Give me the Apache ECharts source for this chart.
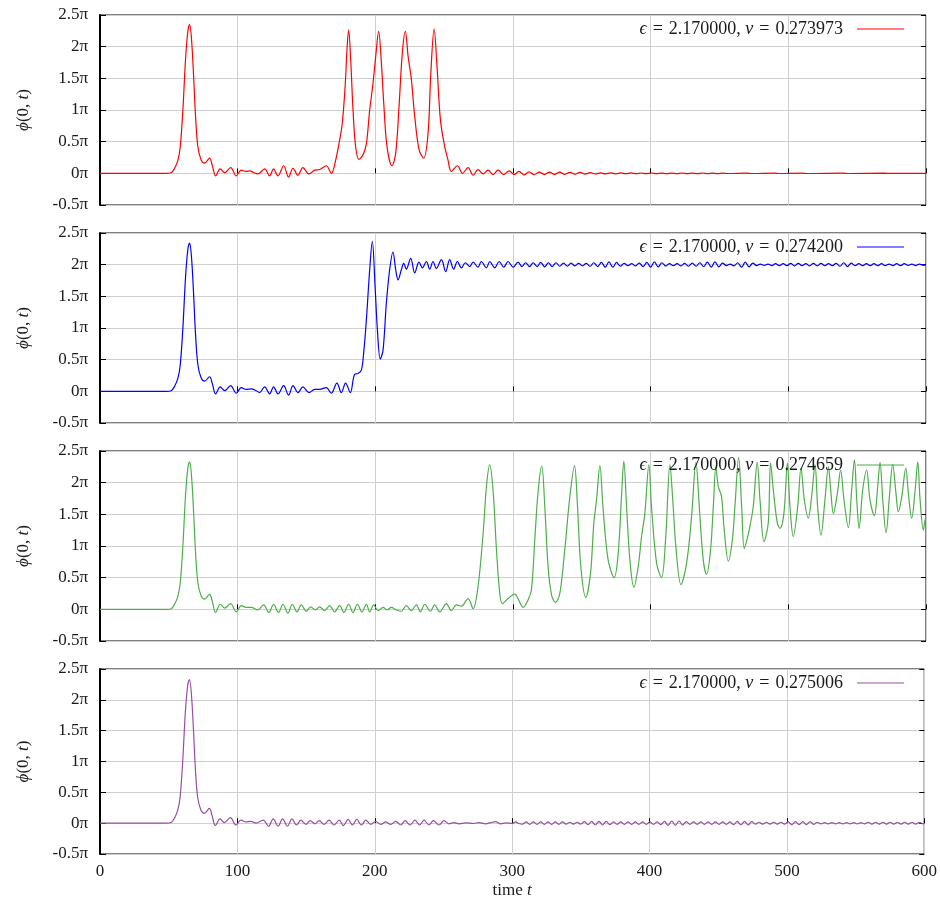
<!DOCTYPE html>
<html><head><meta charset="utf-8">
<script src="https://cdn.jsdelivr.net/npm/echarts@6/dist/echarts.min.js"></script>
<style>html,body{margin:0;padding:0;background:#fff}#c{width:940px;height:900px}</style>
</head><body><div id="c"></div>
<script>
// ---------- data (phi in units of pi, t in time units) ----------
const epsilonValue = '2.170000';
const velocities = ['0.273973', '0.274200', '0.274659', '0.275006'];
const lineColors = ['#ff0000', '#0000ff', '#4daf4a', '#984ea3'];
const xTickValues = [0, 100, 200, 300, 400, 500, 600];
const yTickValues = [-0.5, 0, 0.5, 1, 1.5, 2, 2.5];
const yTickLabels = ['-0.5π', '0π', '0.5π', '1π', '1.5π', '2π', '2.5π'];

const phiV273973 = [
[0,0],[48.1,0],[51.7,0.01],[54.2,0.08],[56.6,0.21],[58.3,0.42],[60.2,1.0],[62.1,1.79],[63.8,2.24],[65.1,2.35],[66.5,2.11],[68.0,1.53],[69.4,0.9],[71.1,0.42],[73.5,0.21],[76.0,0.16],[79.6,0.24],[81.5,0.13],[84.0,-0.04],[87.3,0.07],[90.5,0.01],[94.9,0.09],[99.0,-0.04],[102.6,0.05],[106.2,0.03],[109.2,0.04],[111.6,0.01],[114.7,-0.01],[119.6,0.07],[123.2,-0.04],[126.1,0.07],[129.3,-0.04],[133.4,0.12],[137.0,-0.06],[140.2,0.08],[143.8,-0.03],[147.4,0.09],[151.8,-0.01],[155.9,0.05],[159.6,0.06],[164.4,0.12],[168.0,0],[171.2,0.21],[174.1,0.53],[176.0,0.79],[178.2,1.42],[179.4,1.95],[180.6,2.26],[182.1,1.79],[183.8,1.0],[185.7,0.42],[188.1,0.22],[191.0,0.29],[193.5,0.47],[195.9,1.0],[198.3,1.42],[200.3,1.85],[202.4,2.24],[204.4,1.74],[206.1,1.11],[208.5,0.42],[212.1,0.12],[214.8,0.32],[217.2,1.05],[219.6,1.9],[221.8,2.24],[223.8,1.85],[226.2,1.48],[228.6,0.9],[231.8,0.37],[235.1,0.24],[238.3,0.63],[240.2,1.53],[242.7,2.28],[244.8,1.69],[247.3,0.84],[250.4,0.42],[252.8,0.21],[255.2,0.03],[259.6,0.12],[263.3,0],[267.4,0.09],[271.0,-0.03],[274.6,0.06],[278.3,-0.01],[281.9,0.05],[285.5,-0.02],[289.2,0.05],[293.3,-0.02],[297.2,0.04],[300.8,-0.02],[304.4,0.03],
[308,-0.025],[311.7,0.022],[315.4,-0.022],[319.1,0.02],[322.8,-0.02],[326.5,0.02],[330.2,-0.018],[333.9,0.018],[337.6,-0.016],[341.3,0.016],[345,-0.015],[348.7,0.015],[352.4,-0.012],[356.1,0.012],[359.8,-0.01],[363.5,0.008],[367.2,-0.008],[370.9,0.007],[374.6,-0.007],[378.3,0.006],[382,-0.006],[385.7,0.006],[389.4,-0.006],[393.1,0.005],[396.8,-0.005],[400.5,0.005],[404.2,-0.005],[407.9,0.004],[411.6,-0.004],[415.3,0.004],[419,-0.004],[422.7,0.005],[426.4,-0.005],[430.1,0.004],[433.8,-0.004],[437.5,0.005],[441.2,-0.004],[444.9,0.004],[448.6,-0.004],[452.3,0.003],[456,-0.003],[470,0.003],[473.7,-0.003],[490,0.003],[493.7,-0.003],[510,0.003],[513.7,-0.003],[540,0.003],[543.7,-0.003],[570,0.002],[573.7,-0.002],[600,0]
];

const phiV274200 = [
[0,0],[48.1,0],[51.7,0.01],[54.2,0.08],[56.6,0.21],[58.3,0.42],[60.2,1.0],[62.1,1.79],[63.8,2.24],[65.1,2.34],[66.5,2.11],[68.0,1.53],[69.4,0.9],[71.1,0.42],[73.5,0.21],[76.0,0.16],[79.6,0.23],[81.5,0.13],[84.0,-0.04],[87.3,0.07],[90.5,0.01],[94.9,0.09],[99.0,-0.03],[102.6,0.06],[106.2,0.03],[109.9,0.04],[113.5,0.01],[115.9,-0.02],[119.6,0.07],[123.2,-0.04],[126.1,0.07],[129.3,-0.04],[133.4,0.09],[137.0,-0.06],[140.2,0.09],[143.8,-0.02],[147.4,0.07],[151.8,-0.02],[155.9,0.03],[159.6,0.03],[164.4,0.06],[168.0,-0.03],[172.1,0.13],[175.3,-0.02],[178.4,0.13],[181.8,-0.02],[185.0,0.27],[187.4,0.28],[189.8,0.33],[191.5,0.6],[193.5,1.13],[195.9,1.92],[197.8,2.37],[199.8,1.66],[201.5,0.97],[203.6,0.51],[205.6,0.65],[208.0,1.39],[210.4,1.92],[212.8,2.2],[214.8,1.92],[216.5,1.76],[218.9,1.92],[220.6,2.02],[222.5,1.93],[225.7,2.1],[228.6,1.87],[231.7,2.04],[234.2,1.95],[237.1,2.05],[239.5,1.93],[241.9,2.05],[244.3,1.94],[248.0,2.08],[251.1,1.89],[254.0,2.08],[256.9,1.93],[259.6,2.05],[262.5,1.95],[265.4,2.03],[268.6,1.97],[271.0,2.04],[274.6,1.96],[277.0,2.05],[280.7,1.95],[283.1,2.05],[286.7,1.95],[289.9,2.05],[293.3,1.96],[296.4,2.05],[300.1,1.96],[303.7,2.04],
[306.5,1.97],[309.2,2.03],[312,1.97],[314.7,2.03],[317.5,1.97],[320.2,2.035],[323,1.965],[325.7,2.03],[328.5,1.97],[331.2,2.03],[334,1.975],[336.7,2.025],[339.5,1.975],[342.2,2.025],[345,1.98],[347.7,2.02],[350.5,1.98],[353.2,2.02],[356,1.975],[358.7,2.03],[361.5,1.97],[364.2,2.035],[367,1.96],[369.7,2.045],[372.5,1.96],[375.2,2.035],[378,1.975],[380.7,2.02],[383.5,1.985],[386.2,2.015],[389,1.98],[391.7,2.025],[394.5,1.97],[397.2,2.035],[400,1.96],[402.7,2.045],[405.5,1.965],[408.2,2.03],[411,1.98],[413.7,2.015],[416.5,1.985],[419.2,2.015],[422,1.98],[424.7,2.02],[427.5,1.975],[430.2,2.025],[433,1.975],[435.7,2.03],[438.5,1.97],[441.2,2.04],[444,1.96],[446.7,2.045],[449.5,1.965],[452.2,2.025],[455,1.985],[457.7,2.01],[460.5,1.98],[463.2,2.03],[466,1.96],[468.7,2.04],[471.5,1.965],[474.2,2.025],[477,1.985],[479.7,2.01],[482.5,1.99],[485.2,2.01],[488,1.985],[490.7,2.015],[493.5,1.985],[496.2,2.015],[499,1.985],[501.7,2.02],[504.5,1.98],[507.2,2.02],[510,1.985],[512.7,2.015],[515.5,1.98],[518.2,2.02],[521,1.98],[523.7,2.02],[526.5,1.985],[529.2,2.015],[532,1.985],[534.7,2.02],[537.5,1.975],[540.2,2.03],[543,1.97],[545.7,2.025],[548.5,1.985],[551.2,2.015],[554,1.985],[556.7,2.015],[559.5,1.985],[562.2,2.015],[565,1.985],[567.7,2.015],[570.5,1.985],[573.2,2.01],[576,1.985],[578.7,2.015],[581.5,1.985],[584.2,2.015],[587,1.99],[589.7,2.01],[592.5,1.985],[595.2,2.01],[598,1.99],[600,2.0]
];

const phiV274659 = [
[0,0],[48.1,0],[51.7,0.01],[54.2,0.08],[56.6,0.21],[58.3,0.42],[60.2,1.0],[62.1,1.79],[63.8,2.23],[65.1,2.33],[66.5,2.1],[68.0,1.53],[69.4,0.9],[71.1,0.42],[73.5,0.21],[76.0,0.16],[79.6,0.24],[81.5,0.13],[84.0,-0.05],[87.3,0.08],[90.5,0.02],[94.9,0.09],[99.0,-0.04],[102.6,0.06],[106.2,0.03],[109.9,0.03],[114.7,-0.01],[118.8,0.07],[122.7,-0.05],[126.1,0.08],[129.7,-0.05],[132.9,0.08],[136.5,-0.06],[139.7,0.08],[143.1,-0.04],[146.2,0.07],[149.9,-0.03],[153.0,0.04],[156.6,-0.01],[159.5,0.04],[163.2,-0.02],[166.8,0.06],[170.4,-0.04],[174.1,0.06],[177.2,-0.05],[180.6,0.08],[183.8,-0.05],[186.9,0.08],[190.3,-0.04],[193.5,0.08],[195.9,-0.04],[198.8,0.07],[202.0,-0.02],[205.6,0.03],[208.5,-0.01],[211.6,0.03],[215.3,-0.01],[218.9,-0.03],[222.5,0.06],[226.2,-0.02],[229.8,0.07],[232.7,-0.04],[235.9,0.08],[240.0,-0.03],[243.1,0.07],[246.8,-0.04],[251.6,0.09],[255.2,-0.02],[258.9,0.07],[262.5,0.05],[267.4,0.17],[271.0,0.01],[274.6,0.36],[278.3,1.2],[280.7,1.94],[283.1,2.28],[285.5,1.88],[288.0,0.94],[290.4,0.25],[292.3,0.09],[296.4,0.17],[301.3,0.24],[303.7,0.17],[307.4,0.03],[311.0,0.15],[313.4,0.31],[315.8,1.09],[318.3,1.88],[320.9,2.26],[323.1,1.62],[325.5,0.67],[328.0,0.23],[330.9,0.11],[334.0,0.25],[337.6,0.94],[341.3,1.78],[344.7,2.27],[346.6,1.73],[349.3,0.67],[352.9,0.19],[356.3,0.57],[358.7,1.36],[360.7,1.73],[363.1,2.27],[365.5,1.57],[369.1,0.78],[373.5,0.5],[376.4,0.88],[378.8,1.78],[380.5,2.34],[382.5,1.62],[384.9,0.78],[387.8,0.35],[390.9,0.67],[393.4,1.15],[395.8,1.52],[398.7,2.28],[400.6,1.62],[404.3,0.73],[407.9,0.5],[410.8,1.09],[414.0,2.28],[415.9,1.78],[418.3,0.99],[422.0,0.39],[426.1,0.73],[429.7,1.46],[432.9,2.32],[435.3,1.62],[438.2,0.78],[440.6,0.55],[443.5,0.94],[445.5,1.62],[447.4,2.25],[449.1,1.94],[451.5,1.78],[453.2,1.31],[456.4,0.76],[459.3,1.09],[461.2,1.62],[463.9,2.4],[466.1,1.62],[468.0,0.96],[470.2,1.12],[472.1,1.31],[474.5,1.62],[477.4,2.32],[479.4,1.73],[482.3,1.07],[485.4,1.36],[487.1,2.31],[489.1,1.88],[492.0,1.36],[493.9,1.28],[496.8,1.52],[499.3,2.31],[501.2,1.62],[503.6,1.15],[506.8,1.62],[509.2,2.23],[511.6,1.73],[514.5,1.44],[516.9,1.78],[519.4,2.28],[521.3,1.62],[523.7,1.17],[526.6,1.73],[529.1,2.25],[530.8,1.88],[532.7,1.51],[535.6,1.83],[538.0,2.2],[540.4,1.73],[543.6,1.29],[546.0,1.88],[548.0,2.36],[549.7,1.73],[551.4,1.28],[554.0,1.88],[556.9,2.2],[559.3,1.73],[562.5,1.48],[564.7,1.88],[566.6,2.32],[568.6,1.73],[571.0,1.21],[573.4,1.78],[575.8,2.29],[578.2,1.83],[579.9,1.54],[582.4,1.78],[585.3,2.23],[587.2,1.83],[589.6,1.44],[592.1,1.88],[594.0,2.33],[595.7,1.73],[598.1,1.25],[599.3,1.41],[600,1.45]
];

const phiV275006 = [
[0,0],[48.1,0],[51.7,0.01],[54.2,0.08],[56.6,0.21],[58.3,0.42],[60.2,1.0],[62.1,1.79],[63.8,2.23],[65.1,2.33],[66.5,2.1],[68.0,1.53],[69.4,0.9],[71.1,0.42],[73.5,0.21],[76.0,0.16],[79.6,0.24],[81.5,0.13],[84.0,-0.04],[87.3,0.07],[90.5,0.01],[94.9,0.09],[99.0,-0.03],[102.6,0.05],[106.2,0.02],[109.9,0.03],[113.5,0],[118.8,0.05],[122.7,-0.05],[126.1,0.07],[129.7,-0.05],[132.9,0.07],[136.5,-0.05],[139.7,0.07],[143.1,-0.03],[146.2,0.05],[149.9,-0.02],[153.0,0.04],[156.6,-0.01],[159.5,0.04],[163.2,-0.02],[166.8,0.05],[170.4,-0.03],[174.1,0.05],[177.2,-0.04],[180.6,0.06],[183.8,-0.03],[186.9,0.06],[190.3,-0.03],[193.5,0.05],[197.1,-0.02],[200.7,0.03],[204.4,-0.02],[208.0,0.02],[211.6,-0.02],[215.3,0.03],[218.9,-0.03],[222.1,0.04],[225.7,-0.03],[229.3,0.05],[232.7,-0.03],[235.9,0.05],[239.5,-0.03],[242.7,0.04],[246.8,-0.03],[250.4,0.04],[254.0,-0.01],[257.7,0.01],[261.3,-0.01],[266.1,0.005],[272.2,-0.005],[275.8,0.01],[280.7,-0.01],[284.3,0.01],[288.0,0.025],[291.6,-0.01],[295.2,0.005],[300.1,-0.005],[302.5,0.02],[304.9,-0.005],
[307.5,-0.015],[310.2,0.02],[312.8,-0.02],[315.5,0.02],[318.1,-0.02],[320.8,0.02],[323.4,-0.02],[326.1,0.02],[328.7,-0.02],[331.4,0.02],[334,-0.02],[336.7,0.02],[339.3,-0.015],[342,0.015],[344.6,-0.015],[347.3,0.015],[349.9,-0.015],[352.6,0.025],[355.2,-0.025],[357.9,0.03],[360.5,-0.03],[363.2,0.03],[365.8,-0.03],[368.5,0.03],[371.1,-0.025],[373.8,0.02],[376.4,-0.02],[379.1,0.02],[381.7,-0.02],[384.4,0.02],[387,-0.02],[389.7,0.02],[392.3,-0.02],[395,0.02],[397.6,-0.02],[400.3,0.02],[402.9,-0.02],[405.6,0.02],[408.2,-0.025],[410.9,0.03],[413.5,-0.035],[416.2,0.035],[418.8,-0.035],[421.5,0.035],[424.1,-0.03],[426.8,0.025],[429.4,-0.02],[432.1,0.02],[434.7,-0.02],[437.4,0.02],[440,-0.02],[442.7,0.02],[445.3,-0.02],[448,0.02],[450.6,-0.02],[453.3,0.02],[455.9,-0.02],[458.6,0.02],[461.2,-0.025],[463.9,0.03],[466.5,-0.03],[469.2,0.03],[471.8,-0.03],[474.5,0.025],[477.1,-0.015],[479.8,0.015],[482.4,-0.015],[485.1,0.015],[487.7,-0.015],[490.4,0.015],[493,-0.015],[495.7,0.015],[498.3,-0.015],[501,0.02],[503.6,-0.025],[506.3,0.025],[508.9,-0.025],[511.6,0.025],[514.2,-0.025],[516.9,0.025],[519.5,-0.02],[522.2,0.015],[524.8,-0.01],[527.5,0.01],[530.1,-0.01],[532.8,0.01],[535.4,-0.01],[538.1,0.01],[540.7,-0.01],[543.4,0.01],[546,-0.01],[548.7,0.01],[551.3,-0.01],[554,0.01],[556.6,-0.01],[559.3,0.015],[561.9,-0.015],[564.6,0.015],[567.2,-0.015],[569.9,0.015],[572.5,-0.015],[575.2,0.015],[577.8,-0.015],[580.5,0.015],[583.1,-0.015],[585.8,0.015],[588.4,-0.015],[591.1,0.015],[593.7,-0.015],[596.4,0.015],[599,-0.01],[600,0]
];

const panelData = [phiV273973, phiV274200, phiV274659, phiV275006];

// ---------- chart ----------
const FONT = 'Liberation Serif';
const TXT = '#1a1a1a';
const chart = echarts.init(document.getElementById('c'), null, {renderer: 'canvas'});
const grids = [], xAxes = [], yAxes = [], series = [], legends = [];
const seriesName = i => 'ϵ = ' + epsilonValue + ', v = ' + velocities[i];
const yLabel = v => {
  const k = yTickValues.findIndex(t => Math.abs(t - v) < 1e-9);
  return k >= 0 ? yTickLabels[k] : '';
};
const TS = '\u2004'; // thick math space around "="

for (let i = 0; i < 4; i++) {
  const top = 15 + 218 * i;
  grids.push({left: 100, right: 14, top: top, height: 190, show: true,
    borderColor: '#000', borderWidth: 1, backgroundColor: 'transparent'});
  const last = i === 3;
  xAxes.push({
    type: 'value', gridIndex: i, min: 0, max: 600, interval: 100,
    axisLine: {show: false},
    axisTick: {show: true, inside: true, length: 5, lineStyle: {color: '#000'}},
    splitLine: {show: true, lineStyle: {color: '#cfcfcf', width: 1}},
    axisLabel: {show: last, margin: 9, color: TXT, fontFamily: FONT, fontSize: 17,
      formatter: v => xTickValues.includes(v) ? String(v) : ''},
    name: last ? '{n|time }{i|t}' : '', nameLocation: 'middle', nameGap: 28,
    nameTextStyle: {rich: {
      n: {fontFamily: FONT, fontSize: 17, color: TXT},
      i: {fontFamily: FONT, fontSize: 17, fontStyle: 'italic', color: TXT}}}
  });
  yAxes.push({
    type: 'value', gridIndex: i, min: -0.5, max: 2.5, interval: 0.5, position: 'left',
    axisLine: {show: true, lineStyle: {color: '#000', width: 2}},
    axisTick: {show: true, inside: true, length: 6, lineStyle: {color: '#000'}},
    splitLine: {show: true, lineStyle: {color: '#cfcfcf', width: 1}},
    axisLabel: {margin: 12, color: TXT, fontFamily: FONT, fontSize: 17, formatter: yLabel},
    name: '{i|ϕ}{n|(0, }{i|t}{n|)}', nameLocation: 'middle', nameRotate: 90, nameGap: 68,
    nameTextStyle: {rich: {
      n: {fontFamily: FONT, fontSize: 17, color: TXT},
      i: {fontFamily: FONT, fontSize: 17, fontStyle: 'italic', color: TXT}}}
  });
  yAxes.push({
    type: 'value', gridIndex: i, min: -0.5, max: 2.5, interval: 0.5, position: 'right',
    axisLine: {show: false},
    axisTick: {show: true, inside: true, length: 5, lineStyle: {color: '#000'}},
    splitLine: {show: false}, axisLabel: {show: false}
  });
  series.push({
    name: seriesName(i), type: 'line', xAxisIndex: i, yAxisIndex: 2 * i,
    data: panelData[i], symbol: 'none', showSymbol: false, smooth: 0.35,
    lineStyle: {color: lineColors[i], width: 1.2}, itemStyle: {color: lineColors[i]},
    animation: false, z: 3
  });
  legends.push({
    data: [seriesName(i)], right: 36, top: top + 5, align: 'right', orient: 'horizontal',
    icon: 'rect', itemWidth: 47, itemHeight: 1.2, selectedMode: false, padding: 0,
    itemStyle: {color: lineColors[i]},
    formatter: () => '{i|ϵ}' + TS + '=' + TS + epsilonValue + ', {i|v}' + TS + '=' + TS + velocities[i] + '\u2002',
    textStyle: {fontFamily: FONT, fontSize: 18, color: TXT,
      rich: {i: {fontFamily: FONT, fontSize: 18, fontStyle: 'italic', color: TXT}}}
  });
}

chart.setOption({
  animation: false, backgroundColor: '#fff',
  grid: grids, xAxis: xAxes, yAxis: yAxes, series: series, legend: legends
});
</script></body></html>
